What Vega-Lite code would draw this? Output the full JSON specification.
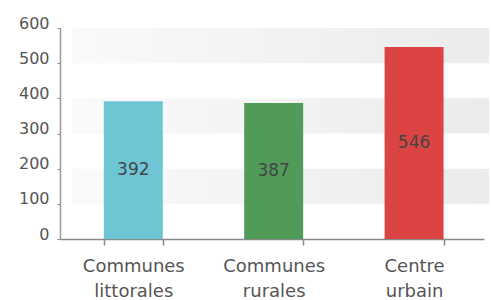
{
  "$schema": "https://vega.github.io/schema/vega-lite/v6.json",
  "width": 424,
  "height": 211,
  "autosize": "none",
  "padding": {"left": 60, "top": 28, "right": 7, "bottom": 61},
  "config": {
    "view": {"stroke": null},
    "font": "DejaVu Sans",
    "axisX": {
      "title": null,
      "labelAngle": 0,
      "labelExpr": "split(datum.label, ' ')",
      "labelFontSize": 18,
      "labelColor": "#555555",
      "labelLineHeight": 25,
      "labelPadding": 12,
      "labelBaseline": "top",
      "ticks": true,
      "tickBand": "extent",
      "tickSize": 6,
      "tickColor": "#888888",
      "tickWidth": 1.5,
      "domainColor": "#888888",
      "domainWidth": 1.5,
      "grid": false
    }
  },
  "datasets": {
    "bars": [
      {"zone": "Communes littorales", "valeur": 392},
      {"zone": "Communes rurales", "valeur": 387},
      {"zone": "Centre urbain", "valeur": 546}
    ],
    "bandes": [
      {"bas": 100, "haut": 200},
      {"bas": 300, "haut": 400},
      {"bas": 500, "haut": 600}
    ]
  },
  "layer": [
    {
      "data": {"name": "bandes"},
      "mark": {
        "type": "rect",
        "xOffset": 12,
        "x2Offset": 5,
        "color": {
          "gradient": "linear",
          "x1": 0, "y1": 0, "x2": 1, "y2": 0,
          "stops": [
            {"offset": 0, "color": "#fafafa"},
            {"offset": 1, "color": "#eaebeb"}
          ]
        }
      },
      "encoding": {
        "x": {"value": 0},
        "x2": {"value": {"expr": "width"}},
        "y": {
          "field": "bas", "type": "quantitative",
          "scale": {"domain": [0, 600], "nice": false},
          "axis": {
            "title": null,
            "tickCount": 7,
            "grid": false,
            "tickSize": 3,
            "tickColor": "#888888",
            "domainColor": "#999999",
            "domainWidth": 1.5,
            "labelFontSize": 16,
            "labelColor": "#555555",
            "labelPadding": 8,
            "labelOffset": -5,
            "labelOverlap": false
          }
        },
        "y2": {"field": "haut"}
      }
    },
    {
      "data": {"name": "bars"},
      "mark": {"type": "bar"},
      "encoding": {
        "x": {
          "field": "zone", "type": "nominal", "sort": null,
          "scale": {"paddingInner": 0.58, "paddingOuter": 0.3, "align": 0.52},
          "axis": {"ticks": true, "tickBand": "extent", "tickExtra": true}
        },
        "y": {"field": "valeur", "type": "quantitative"},
        "color": {
          "field": "zone", "type": "nominal", "legend": null,
          "scale": {
            "domain": ["Communes littorales", "Communes rurales", "Centre urbain"],
            "range": ["#6ec6d5", "#4f9b57", "#db4442"]
          }
        }
      }
    },
    {
      "data": {"name": "bars"},
      "transform": [{"calculate": "datum.valeur / 2", "as": "milieu"}],
      "mark": {"type": "text", "fontSize": 17, "color": "#444444", "baseline": "middle"},
      "encoding": {
        "x": {
          "field": "zone", "type": "nominal", "sort": null,
          "axis": {"ticks": true, "tickBand": "extent", "tickExtra": true}
        },
        "y": {"field": "milieu", "type": "quantitative"},
        "text": {"field": "valeur", "type": "quantitative"}
      }
    }
  ]
}
